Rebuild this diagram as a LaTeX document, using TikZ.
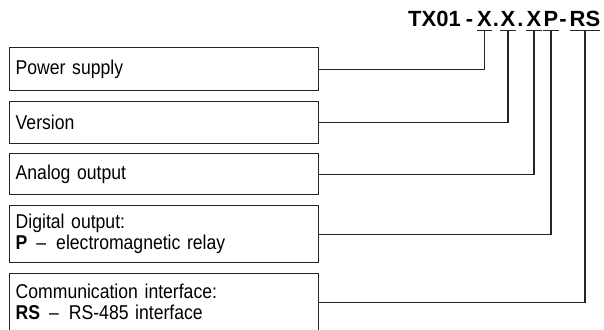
\documentclass[tikz,border=0pt]{standalone}
\usepackage{fontspec}
\setmainfont{Liberation Sans}
\newfontfamily\fieldfont{Liberation Sans}[FakeStretch=0.88,WordSpace=1.6,Ligatures=TeX]
\usetikzlibrary{positioning}
\usetikzlibrary{calc}
\tikzset{
  fieldbox/.style={draw=black!85,line width=1.4pt,rectangle,anchor=north west,
    minimum width=309pt,text width=297pt,inner xsep=6pt,inner ysep=0pt,align=left,
    font=\fieldfont\fontsize{20}{21}\selectfont},
  codepart/.style={anchor=base,inner sep=0pt,font=\fontsize{22}{22}\selectfont\bfseries},
  wire/.style={draw=black!85,line width=1.2pt}
}
\newcommand{\codeline}[1]{([yshift=-3pt]#1.south west) -- ([yshift=-3pt]#1.south east)}
\newcommand{\keydash}{\hspace{9pt}--\hspace{10pt}}

\begin{document}
\begin{tikzpicture}[x=1pt,y=-1pt]
\useasboundingbox (0,0) rectangle (604,329);

%order code
\path (461,27) node (tx) [codepart,anchor=base east] {TX01}
      (469.5,27) node (dasha) [codepart] {-}
      (484.5,27) node (xa) [codepart] {X}
      (496,27) node (dota) [codepart] {.}
      (508,27) node (xb) [codepart] {X}
      (520.5,27) node (dotb) [codepart] {.}
      (534,27) node (xc) [codepart] {X}
      (551,27) node (p) [codepart] {P}
      (563,27) node (dashb) [codepart] {-}
      (585,27) node (rs) [codepart] {RS};

\draw[wire] \codeline{xa} \codeline{xb} \codeline{xc} \codeline{p} \codeline{rs};

%field boxes
\path (9,47) node (power) [fieldbox,minimum height=43pt] {Power supply}
      (9,101) node (version) [fieldbox,minimum height=42pt] {Version}
      (9,153) node (analog) [fieldbox,minimum height=41pt] {Analog output}
      (9,205) node (digital) [fieldbox,minimum height=57pt]
        {Digital output:\\\textbf{P}\keydash electromagnetic relay}
      (9,273) node (comm) [fieldbox,minimum height=57pt]
        {Communication interface:\\\textbf{RS}\keydash RS-485 interface};

% connectors
\draw[wire] (power.east) -| ([yshift=-3pt]xa.south);
\draw[wire] (version.east) -| ([yshift=-3pt]xb.south);
\draw[wire] (analog.east) -| ([yshift=-3pt]xc.south);
\draw[wire] (digital.east) -| ([yshift=-3pt]p.south);
\draw[wire] (comm.east) -| ([yshift=-3pt]rs.south);

\end{tikzpicture}
\end{document}
